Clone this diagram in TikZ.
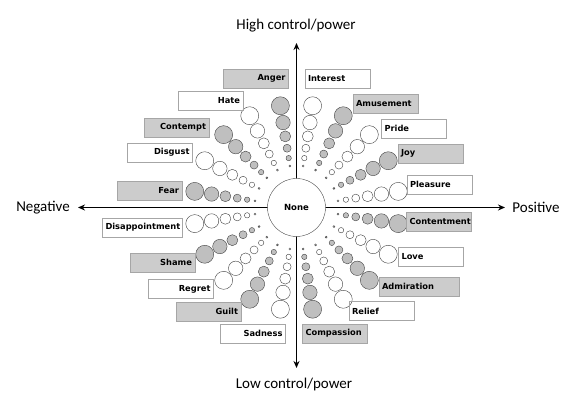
\documentclass[tikz,border=0pt]{standalone}
\usepackage{fontspec}
\setmainfont{Carlito}
\newfontfamily\gewfont{DejaVu Sans}
\usetikzlibrary{arrows.meta}
\begin{document}
\begin{tikzpicture}[x=1pt,y=1pt,
  emo/.style={draw=black!35,thin,font=\gewfont\bfseries\fontsize{8.3}{9}\selectfont,
    minimum height=19pt,inner xsep=3pt,inner ysep=0pt,text width=59pt},
  negbox/.style={emo,align=right},
  posbox/.style={emo,align=left},
  gry/.style={fill=black!20},
  wide/.style={text width=74pt},
  axis/.style={line width=1.6pt,-{Stealth[length=7pt,width=6pt]}},
  pole/.style={font=\fontsize{15}{18}\selectfont},
  bubble/.style={draw=black!75,line width=0.4pt}]
\useasboundingbox (0,0) rectangle (587,412);
\coordinate (c) at (296.5,204.5);
\coordinate (up) at (296.5,369);
\coordinate (down) at (296.5,44);
\coordinate (left) at (78,204.5);
\coordinate (right) at (505,204.5);
% axes
\draw[axis] (c) -- (up);
\draw[axis] (c) -- (down);
\draw[axis] (c) -- (left);
\draw[axis] (c) -- (right);
\node[pole] (hi) at (296,386) {High control/power};
\node[pole] (lo) at (294,27) {Low control/power};
\node[pole] (ng) at (43,204.5) {Negative};
\node[pole] (ps) at (536,204.5) {Positive};
% spokes of bubbles
\foreach \k in {0,...,19}{
  \pgfmathsetmacro\ang{9+18*\k}
  \pgfmathsetmacro\tone{isodd(\k)?25:0}
  \foreach \d/\r in {42/1,50/2.7,60/4,72/5.5,86/7.2,103/9}
    \draw[bubble,fill=black!\tone] (c) ++(\ang:\d) circle[radius=\r];
}
\node[circle,draw=black!70,fill=white,minimum size=58pt,
  font=\gewfont\bfseries\fontsize{8.5}{9}\selectfont] (none) at (c) {None};
% negative side
\node[negbox,gry] (anger) at (256,333.5) {Anger};
\node[negbox] (hate) at (210.5,311.5) {Hate};
\node[negbox,gry] (contempt) at (176.5,284.5) {Contempt};
\node[negbox] (disgust) at (160,259.5) {Disgust};
\node[negbox,gry] (fear) at (149.5,221.5) {Fear};
\node[negbox,wide] (disap) at (142.5,184.5) {Disappointment};
\node[negbox,gry] (shame) at (162.5,149.5) {Shame};
\node[negbox] (regret) at (181,123) {Regret};
\node[negbox,gry] (guilt) at (208.5,100.5) {Guilt};
\node[negbox] (sadness) at (253,78.5) {Sadness};
% positive side
\node[posbox] (interest) at (337.5,333.5) {Interest};
\node[posbox,gry] (amuse) at (385.5,308.5) {Amusement};
\node[posbox] (pride) at (414,283.5) {Pride};
\node[posbox,gry] (joy) at (430.5,258.5) {Joy};
\node[posbox] (pleasure) at (439.5,227.5) {Pleasure};
\node[posbox,gry] (content) at (439,190.5) {Contentment};
\node[posbox] (love) at (431,155.5) {Love};
\node[posbox,gry,wide] (admire) at (419,125.5) {Admiration};
\node[posbox] (relief) at (381.5,101) {Relief};
\node[posbox,gry] (compass) at (335,78.5) {Compassion};
\end{tikzpicture}
\end{document}
